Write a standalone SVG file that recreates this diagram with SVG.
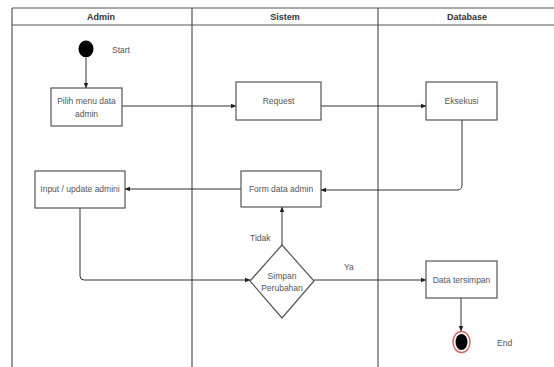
<svg xmlns="http://www.w3.org/2000/svg" width="554" height="367" viewBox="0 0 554 367">
  <defs>
    <marker id="arrow" viewBox="0 0 10 10" refX="9" refY="5" markerWidth="6" markerHeight="6" orient="auto-start-reverse" markerUnits="userSpaceOnUse">
      <path d="M0,1 L10,5 L0,9 Z" fill="#222"/>
    </marker>
  </defs>
  <style>
    .lane { fill: none; stroke: #555; stroke-width: 1.2; }
    .head { font-family: "Liberation Sans", Arial, sans-serif; font-size: 9px; font-weight: bold; fill: #333; text-anchor: middle; }
    .box { fill: #fff; stroke: #555; stroke-width: 1.2; }
    .lbl { font-family: "Liberation Sans", Arial, sans-serif; font-size: 8.5px; fill: #555; text-anchor: middle; }
    .note { font-family: "Liberation Sans", Arial, sans-serif; font-size: 8.5px; fill: #555; }
    .edge { fill: none; stroke: #333; stroke-width: 1; marker-end: url(#arrow); }
  </style>
  <rect width="554" height="367" fill="#fff"/>

  <!-- swimlanes -->
  <g id="lanes">
    <line class="lane" x1="12" y1="8" x2="554" y2="8"/>
    <line class="lane" x1="12" y1="25" x2="554" y2="25"/>
    <line class="lane" x1="12" y1="8" x2="12" y2="367"/>
    <line class="lane" x1="192" y1="8" x2="192" y2="367"/>
    <line class="lane" x1="378" y1="8" x2="378" y2="367"/>
    <text class="head" x="101" y="20">Admin</text>
    <text class="head" x="285" y="20">Sistem</text>
    <text class="head" x="467" y="20">Database</text>
  </g>

  <!-- connectors -->
  <g id="connectors">
    <line class="edge" x1="86" y1="58" x2="86" y2="88"/>
    <line class="edge" x1="122" y1="106" x2="236" y2="106"/>
    <line class="edge" x1="321" y1="106" x2="426" y2="106"/>
    <path class="edge" d="M462,120 L462,185 Q462,190 457,190 L321,190"/>
    <line class="edge" x1="241" y1="189" x2="125" y2="189"/>
    <path class="edge" d="M80,208 L80,276 Q80,280 84,280 L250,280"/>
    <line class="edge" x1="282" y1="245" x2="282" y2="207"/>
    <line class="edge" x1="314" y1="280" x2="426" y2="280"/>
    <line class="edge" x1="461" y1="298" x2="461" y2="331"/>
    <text class="note" x="250" y="241">Tidak</text>
    <text class="note" x="344" y="270">Ya</text>
  </g>

  <g id="start">
    <ellipse cx="86" cy="49" rx="7.5" ry="8.5" fill="#000"/>
    <text class="note" x="112" y="53">Start</text>
  </g>

  <g id="pilih-menu">
    <rect class="box" x="51" y="88" width="71" height="38"/>
    <text class="lbl" x="86.5" y="104">Pilih menu data</text>
    <text class="lbl" x="86.5" y="117">admin</text>
  </g>

  <g id="request">
    <rect class="box" x="236" y="82" width="85" height="38"/>
    <text class="lbl" x="278.5" y="104">Request</text>
  </g>

  <g id="eksekusi">
    <rect class="box" x="426" y="82" width="71" height="38"/>
    <text class="lbl" x="461.5" y="104">Eksekusi</text>
  </g>

  <g id="form-data">
    <rect class="box" x="241" y="171" width="80" height="36"/>
    <text class="lbl" x="281" y="192">Form data admin</text>
  </g>

  <g id="input-update">
    <rect class="box" x="35" y="171" width="90" height="37"/>
    <text class="lbl" x="80" y="192">Input / update admini</text>
  </g>

  <g id="simpan">
    <polygon class="box" points="282,245 314,281 282,318 250,281"/>
    <text class="lbl" x="282" y="279">Simpan</text>
    <text class="lbl" x="282" y="291">Perubahan</text>
  </g>

  <g id="data-tersimpan">
    <rect class="box" x="426" y="261" width="71" height="37"/>
    <text class="lbl" x="461.5" y="283">Data tersimpan</text>
  </g>

  <g id="end">
    <ellipse cx="461.5" cy="342" rx="8.5" ry="10.5" fill="#fff" stroke="#d46a6a" stroke-width="1.5"/>
    <ellipse cx="461.5" cy="342" rx="6" ry="8" fill="#000"/>
    <text class="note" x="497" y="346">End</text>
  </g>
</svg>
